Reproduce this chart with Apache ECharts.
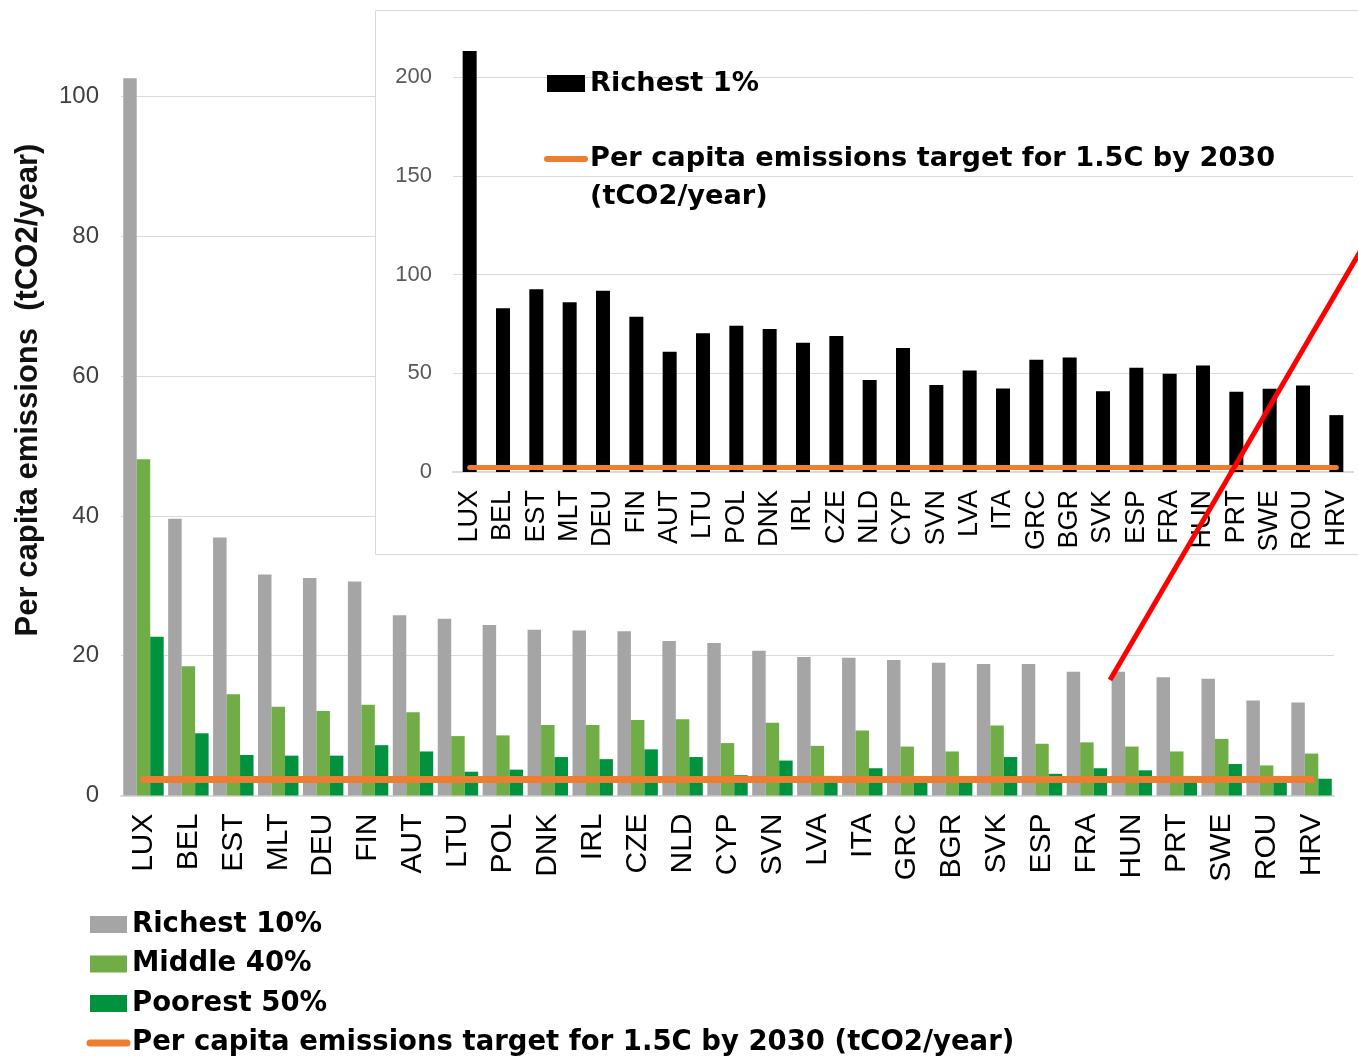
<!DOCTYPE html>
<html><head><meta charset="utf-8">
<script src="https://cdn.jsdelivr.net/npm/echarts@6/dist/echarts.min.js"></script>
<style>html,body{margin:0;padding:0;background:#fff}#c{width:1358px;height:1056px}</style>
</head><body><div id="c"></div>
<script>
const countries = ['LUX','BEL','EST','MLT','DEU','FIN','AUT','LTU','POL','DNK','IRL','CZE','NLD','CYP','SVN','LVA','ITA','GRC','BGR','SVK','ESP','FRA','HUN','PRT','SWE','ROU','HRV'];
const richest10 = [102.6, 39.6, 36.9, 31.6, 31.1, 30.6, 25.8, 25.3, 24.4, 23.7, 23.6, 23.5, 22.1, 21.8, 20.7, 19.8, 19.7, 19.4, 19.0, 18.8, 18.8, 17.7, 17.7, 16.9, 16.7, 13.6, 13.3];
const middle40 = [48.1, 18.5, 14.5, 12.7, 12.1, 13.0, 11.9, 8.5, 8.6, 10.1, 10.1, 10.8, 10.9, 7.5, 10.4, 7.1, 9.3, 7.0, 6.3, 10.0, 7.4, 7.6, 7.0, 6.3, 8.1, 4.3, 6.0];
const poorest50 = [22.7, 8.9, 5.8, 5.7, 5.7, 7.2, 6.3, 3.4, 3.7, 5.5, 5.2, 6.6, 5.5, 2.9, 5.0, 2.8, 3.9, 2.2, 2.1, 5.5, 3.1, 3.9, 3.6, 2.0, 4.5, 2.2, 2.4];
const richest1 = [213.2, 82.9, 92.5, 85.9, 91.8, 78.6, 60.9, 70.3, 74.0, 72.4, 65.5, 68.9, 46.6, 62.8, 44.0, 51.4, 42.3, 56.8, 58.0, 40.9, 52.8, 49.8, 53.9, 40.6, 42.2, 43.8, 28.8];
const target = [2.3, 2.3, 2.3, 2.3, 2.3, 2.3, 2.3, 2.3, 2.3, 2.3, 2.3, 2.3, 2.3, 2.3, 2.3, 2.3, 2.3, 2.3, 2.3, 2.3, 2.3, 2.3, 2.3, 2.3, 2.3, 2.3, 2.3];
const mainTicks = {min: 0, max: 100, interval: 20};
const insetTicks = {min: 0, max: 200, interval: 50};
const TARGET_NAME = 'Per capita emissions target for 1.5C by 2030 (tCO2/year)';
const TARGET_LINE1 = 'Per capita emissions target for 1.5C by 2030';
const TARGET_LINE2 = '(tCO2/year)';
const Y_TITLE = 'Per capita emissions  (tCO2/year)';

const LAB = 'Liberation Sans, Arial, sans-serif';
const LEG = 'DejaVu Sans, sans-serif';
const chart = echarts.init(document.getElementById('c'), null, {renderer: 'canvas'});

const legendText = {fontFamily: LEG, fontWeight: 'bold', fontSize: 27.5, color: '#000', lineHeight: 30};
const insetLegendText = {fontFamily: LEG, fontWeight: 'bold', fontSize: 27.2, color: '#000', lineHeight: 30};
const targetLegendItem = function (w) {
  return {name: TARGET_NAME, itemStyle: {opacity: 0}, lineStyle: {width: w, cap: 'round', color: '#ed7d31'}};
};

chart.setOption({
  animation: false,
  backgroundColor: '#fff',
  grid: [
    {left: 121, right: 24, top: 96.5, bottom: 260.5, outerBoundsMode: 'none'},
    {left: 453, right: 5, top: 77, bottom: 584, outerBoundsMode: 'none', z: 11}
  ],
  xAxis: [
    {type: 'category', gridIndex: 0, data: countries,
     axisLine: {lineStyle: {color: '#d9d9d9', width: 2}}, axisTick: {show: false},
     axisLabel: {rotate: 90, margin: 18, fontSize: 30, color: '#000', fontFamily: LAB, interval: 0}},
    {type: 'category', gridIndex: 1, data: countries, z: 11,
     axisLine: {lineStyle: {color: '#d9d9d9', width: 2}}, axisTick: {show: false},
     axisLabel: {rotate: 90, margin: 18, fontSize: 27, color: '#000', fontFamily: LAB, interval: 0}}
  ],
  yAxis: [
    {type: 'value', gridIndex: 0, min: mainTicks.min, max: mainTicks.max, interval: mainTicks.interval,
     axisLine: {show: false}, axisTick: {show: false},
     splitLine: {lineStyle: {color: '#d9d9d9', width: 1}},
     axisLabel: {fontSize: 24, color: '#404040', margin: 22, fontFamily: LAB}},
    {type: 'value', gridIndex: 1, min: insetTicks.min, max: insetTicks.max, interval: insetTicks.interval, z: 11,
     axisLine: {show: false}, axisTick: {show: false},
     splitLine: {lineStyle: {color: '#d9d9d9', width: 1}},
     axisLabel: {fontSize: 22, color: '#595959', margin: 21, fontFamily: LAB}}
  ],
  legend: [
    {orient: 'vertical', left: 86.5, top: 909.5, height: 200, padding: 0, itemGap: 9.5, itemWidth: 37, itemHeight: 17,
     selectedMode: false, textStyle: legendText,
     data: [{name: 'Richest 10%', icon: 'rect'}, {name: 'Middle 40%', icon: 'rect'}, {name: 'Poorest 50%', icon: 'rect'}, targetLegendItem(7)]},
    {orient: 'vertical', left: 547, top: 68.5, padding: 0, itemWidth: 38, itemHeight: 17, z: 13,
     selectedMode: false, textStyle: insetLegendText,
     data: [{name: 'Richest 1%', icon: 'rect'}]},
    {orient: 'vertical', left: 544, top: 102, padding: 0, itemWidth: 38, itemHeight: 17, z: 13,
     selectedMode: false, textStyle: Object.assign({}, insetLegendText, {lineHeight: 38}),
     formatter: function () { return '\n' + TARGET_LINE1 + '\n' + TARGET_LINE2; },
     data: [targetLegendItem(6)]}
  ],
  series: [
    {name: 'Richest 10%', type: 'bar', xAxisIndex: 0, yAxisIndex: 0, data: richest10, clip: false,
     barGap: '0%', barCategoryGap: '10%', itemStyle: {color: '#a5a5a5'}},
    {name: 'Middle 40%', type: 'bar', xAxisIndex: 0, yAxisIndex: 0, data: middle40, clip: false,
     itemStyle: {color: '#70ad47'}},
    {name: 'Poorest 50%', type: 'bar', xAxisIndex: 0, yAxisIndex: 0, data: poorest50, clip: false,
     itemStyle: {color: '#00923f'}},
    {name: TARGET_NAME, type: 'line', xAxisIndex: 0, yAxisIndex: 0, data: target, symbol: 'none', z: 3,
     itemStyle: {color: '#ed7d31'}, lineStyle: {color: '#ed7d31', width: 7, cap: 'round'}},
    {name: 'Richest 1%', type: 'bar', xAxisIndex: 1, yAxisIndex: 1, data: richest1, clip: false, z: 12,
     barWidth: 14, itemStyle: {color: '#000'}},
    {name: TARGET_NAME, type: 'line', xAxisIndex: 1, yAxisIndex: 1, data: target, symbol: 'none', z: 13,
     itemStyle: {color: '#ed7d31'}, lineStyle: {color: '#ed7d31', width: 5, cap: 'round'}}
  ],
  graphic: [
    {type: 'rect', z: 10, silent: true,
     shape: {x: 375.5, y: 10.5, width: 1000, height: 544},
     style: {fill: '#fff', stroke: '#d9d9d9', lineWidth: 1}},
    {type: 'text', z: 5, x: 28, y: 390, rotation: Math.PI / 2,
     style: {text: Y_TITLE, font: 'bold 31px "Liberation Sans", Arial, sans-serif', fill: '#111', align: 'center', verticalAlign: 'middle'}},
    {type: 'line', z: 20, silent: true,
     shape: {x1: 1110, y1: 680, x2: 1420, y2: 149},
     style: {stroke: '#ff0000', lineWidth: 5}}
  ]
});
</script></body></html>
